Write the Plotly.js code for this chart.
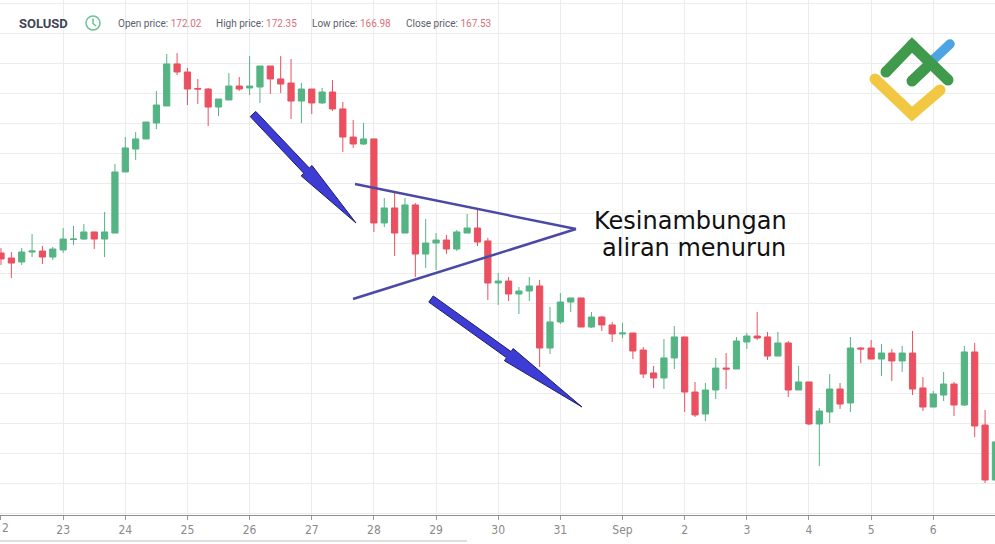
<!DOCTYPE html>
<html><head><meta charset="utf-8">
<script src="https://cdn.plot.ly/plotly-3.0.1.min.js"></script>
<style>html,body{margin:0;padding:0;background:#fff;overflow:hidden}#chart{width:995px;height:544px}</style>
</head><body><div id="chart"></div>
<script>
// ---- data (SOLUSD, 4-hour candles starting 22 Aug) ----
const startTime = '2024-08-22T00:00:00Z';
const candleHours = 4;
const openPrices = [
146.67,146.25,145.92,146.75,146.83,146.33,146.92,147.79,147.83,148.42,
147.83,148.33,153.42,155.33,156.17,157.5,158.92,162.42,161.75,160.38,
160.33,158.83,159.42,160.58,160.42,160.5,162.25,161.17,160.83,159.33,
160.33,159.17,160.08,158.67,156.33,155.75,156.17,149.17,150.42,148.33,
150.67,146.58,147.5,147.75,147.0,148.33,148.75,147.67,144.17,144.33,
143.25,143.5,143.92,138.75,140.92,142.58,142.92,140.5,141.33,140.67,
139.92,140.0,138.58,136.67,136.25,137.92,139.67,135.08,133.25,135.25,
137.08,137.0,139.25,139.75,139.67,138.08,139.17,135.25,135.92,132.42,
133.42,135.33,134.17,138.75,138.75,137.83,138.33,137.67,138.33,135.42,
133.83,134.83,135.75,134.0,138.42,132.33,127.75];
const highPrices = [
147.08,146.75,147.08,148.25,147.25,147.17,148.75,148.92,149.08,148.42,
150.08,154.08,156.33,156.75,157.58,160.17,163.25,163.33,162.08,161.17,
160.42,159.5,161.67,161.33,163.08,162.25,162.25,163.08,162.83,160.83,
160.33,160.42,161.08,159.25,157.75,157.5,156.17,151.25,151.67,151.25,
150.83,149.5,148.33,148.17,148.58,149.92,150.33,147.92,145.0,144.67,
143.83,144.67,144.42,142.17,143.33,142.92,142.92,141.75,141.42,140.92,
140.83,140.0,138.83,137.25,139.5,140.58,139.67,135.92,135.83,137.92,
138.33,139.67,140.0,141.75,140.08,140.08,139.33,137.25,135.92,133.75,
136.58,135.83,139.67,138.83,139.42,139.08,138.67,138.92,140.17,136.33,
135.17,136.75,135.92,138.92,139.17,133.58,131.08];
const lowPrices = [
145.67,144.58,145.67,146.33,145.75,146.08,146.67,147.33,147.75,147.0,
146.33,148.33,153.42,154.42,156.17,157.0,158.92,161.5,159.0,159.08,
157.25,158.08,159.42,160.17,159.83,159.17,159.92,160.0,157.83,157.5,
158.25,159.08,158.5,155.08,155.42,155.67,148.42,148.83,146.42,148.33,
144.67,145.42,145.25,146.58,146.83,148.33,147.25,142.75,142.33,142.67,
141.58,142.67,137.17,138.25,140.75,141.75,140.5,140.42,140.17,139.25,
139.58,137.83,136.25,135.42,135.33,137.0,133.42,133.0,132.67,134.5,
135.33,137.0,138.67,139.42,137.75,138.08,134.67,135.25,132.33,128.92,
132.5,133.67,133.42,137.5,137.83,136.42,136.0,136.75,134.83,133.5,
133.83,134.33,133.08,133.92,131.33,127.5,127.58];
const closePrices = [
146.17,145.83,146.75,146.83,146.33,147.0,147.83,147.83,148.42,147.83,
148.42,153.42,155.42,156.17,157.58,159.0,162.42,161.75,160.33,160.33,
158.83,159.5,160.58,160.33,160.58,162.25,161.17,160.75,159.33,160.33,
159.17,160.08,158.67,156.33,155.75,156.17,149.17,150.42,148.33,150.67,
146.58,147.5,147.75,147.0,148.42,148.75,147.58,144.17,144.33,143.25,
143.5,143.92,138.75,140.92,142.58,142.92,140.5,141.33,140.67,139.92,
140.0,138.5,136.58,136.25,137.92,139.67,135.08,133.17,135.25,137.08,
137.0,139.33,139.75,139.58,138.08,139.17,135.25,135.92,132.42,133.5,
135.33,134.08,138.75,138.67,137.83,138.33,137.67,138.33,135.33,133.83,
134.92,135.75,134.0,138.42,132.25,127.75,130.92];
const dayTickDates = ['2024-08-22','2024-08-23','2024-08-24','2024-08-25','2024-08-26','2024-08-27','2024-08-28','2024-08-29','2024-08-30','2024-08-31','2024-09-01','2024-09-02','2024-09-03','2024-09-04','2024-09-05','2024-09-06'];
const dayTickLabels = ['2','23','24','25','26','27','28','29','30','31','Sep','2','3','4','5','6'];
const symbolName = 'SOLUSD';
const headerLabels = ['Open price:','High price:','Low price:','Close price:'];
const headerValues = ['172.02','172.35','166.98','167.53'];
const noteLines = ['Kesinambungan','aliran menurun'];

// ---- build ----
const times = openPrices.map((_, i) => {
  const t = new Date(Date.parse(startTime) + i * candleHours * 3600e3);
  return t.toISOString().slice(0, 16).replace('T', ' ');
});

const W = 995, PH = 515;
const px = x => x / W;
const py = y => 1 - y / PH;
const P = (x, y) => px(x).toFixed(5) + ',' + py(y).toFixed(5);

const shapes = [];
const annotations = [];

function arrowPath(tx, ty, hx, hy, w, hw, hl) {
  const dx = hx - tx, dy = hy - ty, L = Math.hypot(dx, dy);
  const ux = dx / L, uy = dy / L, nx = -uy, ny = ux;
  const bx = hx - ux * hl, by = hy - uy * hl;
  const pts = [
    [tx + nx * w, ty + ny * w], [bx + nx * w, by + ny * w], [bx + nx * hw, by + ny * hw],
    [hx, hy], [bx - nx * hw, by - ny * hw], [bx - nx * w, by - ny * w], [tx - nx * w, ty - ny * w]
  ];
  return 'M' + pts.map(p => P(p[0], p[1])).join(' L') + ' Z';
}
function roundStroke(points, color, width) {
  shapes.push({type: 'path', xref: 'paper', yref: 'paper',
    path: 'M' + points.map(p => P(p[0], p[1])).join(' L'),
    line: {color: color, width: width}});
  const r = width / 2;
  points.forEach(p => shapes.push({type: 'circle', xref: 'paper', yref: 'paper',
    x0: px(p[0] - r), x1: px(p[0] + r), y0: py(p[1] + r), y1: py(p[1] - r),
    fillcolor: color, line: {width: 0}}));
}

// triangle (converging lines)
const triColor = '#4a4aa6';
shapes.push({type: 'line', xref: 'paper', yref: 'paper', x0: px(355), y0: py(184), x1: px(576), y1: py(229), line: {color: triColor, width: 2.5}});
shapes.push({type: 'line', xref: 'paper', yref: 'paper', x0: px(353), y0: py(299), x1: px(576), y1: py(229), line: {color: triColor, width: 2.5}});

// arrows
shapes.push({type: 'path', xref: 'paper', yref: 'paper', path: arrowPath(253, 114, 356, 223, 3.8, 7.5, 72), fillcolor: '#3d3dd6', line: {color: '#1d1d66', width: 1}});
shapes.push({type: 'path', xref: 'paper', yref: 'paper', path: arrowPath(431, 299, 582, 407, 3.8, 7.5, 90), fillcolor: '#3d3dd6', line: {color: '#1d1d66', width: 1}});

// logo
roundStroke([[875, 79], [912, 114], [940, 90]], '#f2c843', 11);
roundStroke([[934, 59], [950, 44]], '#4da4e2', 9.5);
roundStroke([[886, 72], [912, 45], [948, 80]], '#3f9a4c', 11);
roundStroke([[912, 81], [930, 64]], '#3f9a4c', 11);

// clock icon
shapes.push({type: 'circle', xref: 'paper', yref: 'paper', x0: px(86), x1: px(100), y0: py(30), y1: py(16), line: {color: '#6cc095', width: 1.5}});
shapes.push({type: 'path', xref: 'paper', yref: 'paper', path: 'M' + P(93, 18.5) + ' L' + P(93, 23.5) + ' L' + P(96, 26), line: {color: '#6cc095', width: 1.5}});

// scrollbar hint
shapes.push({type: 'line', xref: 'paper', yref: 'paper', x0: 0, x1: px(467), y0: py(541), y1: py(541), line: {color: '#dedede', width: 2}});

// header text
annotations.push({xref: 'paper', yref: 'paper', x: px(17), y: py(23), xanchor: 'left', yanchor: 'middle', showarrow: false,
  text: '<b>' + symbolName + '</b>', font: {family: 'Roboto, Arial, sans-serif', size: 13, color: '#3f4553'}});
const headerX = [116, 214, 310, 404];
headerLabels.forEach((lab, i) => annotations.push({xref: 'paper', yref: 'paper', x: px(headerX[i]), y: py(23.5), xanchor: 'left', yanchor: 'middle', showarrow: false,
  text: lab + ' <span style="color:#d9707c">' + headerValues[i] + '</span>', font: {family: 'Roboto, Arial, sans-serif', size: 10, color: '#5a606b'}}));

// note text
annotations.push({xref: 'paper', yref: 'paper', x: px(690), y: py(221), xanchor: 'center', yanchor: 'middle', showarrow: false,
  text: noteLines[0], font: {family: '"DejaVu Sans", sans-serif', size: 24, color: '#111'}});
annotations.push({xref: 'paper', yref: 'paper', x: px(694), y: py(248), xanchor: 'center', yanchor: 'middle', showarrow: false,
  text: noteLines[1], font: {family: '"DejaVu Sans", sans-serif', size: 24, color: '#111'}});

// the first day label sits at the very left edge; draw it as left-anchored text so it stays visible
const tickFont = {family: '"Liberation Sans Narrow", "DejaVu Sans Condensed", sans-serif', size: 12, color: '#8a8a8a'};
annotations.push({xref: 'paper', yref: 'paper', x: px(0.5), y: py(528), xanchor: 'left', yanchor: 'middle', showarrow: false,
  text: dayTickLabels[0], font: tickFont, borderpad: 0});
const shownTickText = dayTickLabels.map((t, i) => i === 0 ? '' : t);

const up = '#54b484', down = '#ea5060';
const trace = {
  type: 'candlestick', x: times, open: openPrices, high: highPrices, low: lowPrices, close: closePrices,
  increasing: {line: {color: up, width: 1}, fillcolor: up},
  decreasing: {line: {color: down, width: 1}, fillcolor: down},
  whiskerwidth: 0, hoverinfo: 'none', showlegend: false
};

const layout = {
  width: 995, height: 544,
  margin: {l: 0, r: 0, t: 0, b: 29, pad: 0},
  paper_bgcolor: '#ffffff', plot_bgcolor: '#ffffff',
  showlegend: false,
  boxgap: 0.2, boxgroupgap: 0.25,
  xaxis: {
    type: 'date', range: ['2024-08-21 23:37', '2024-09-06 23:50'],
    rangeslider: {visible: false},
    tickmode: 'array', tickvals: dayTickDates, ticktext: shownTickText,
    showgrid: true, gridcolor: '#ececec', gridwidth: 1,
    showline: true, linecolor: '#8f8f8f', linewidth: 1,
    ticks: 'outside', ticklen: 4, tickcolor: '#9a9a9a', tickwidth: 1,
    tickfont: tickFont,
    zeroline: false, fixedrange: true
  },
  yaxis: {
    range: [167.75 - 515 / 12, 167.75], tick0: 125, dtick: 2.5,
    showticklabels: false, showgrid: true, gridcolor: '#ececec', gridwidth: 1,
    zeroline: false, showline: false, ticks: '', fixedrange: true
  },
  shapes: shapes, annotations: annotations
};

Plotly.newPlot('chart', [trace], layout, {staticPlot: true, displayModeBar: false});
</script></body></html>
